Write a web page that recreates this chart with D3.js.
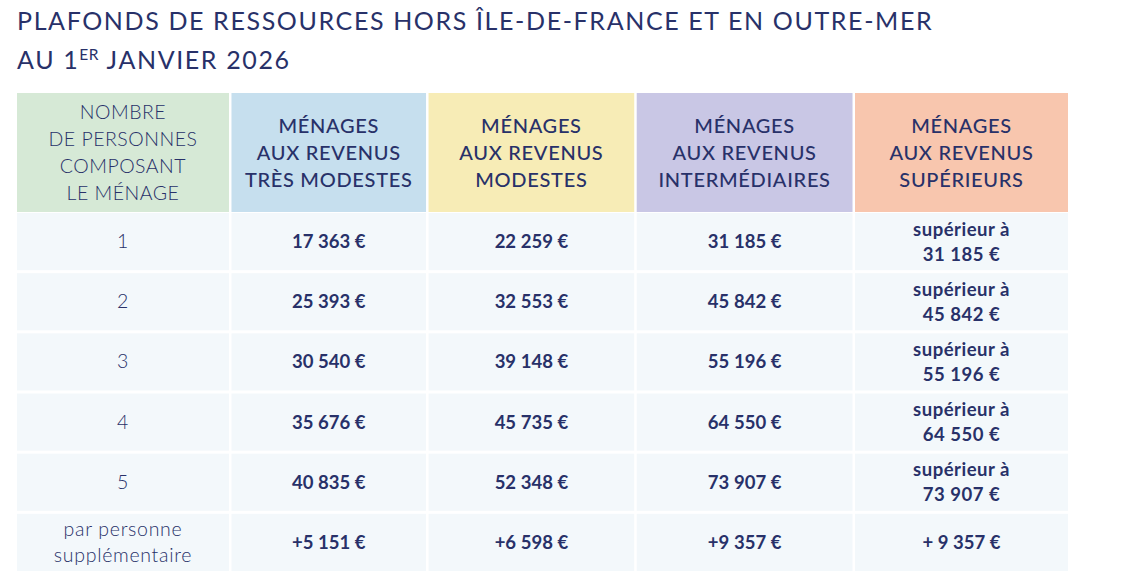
<!DOCTYPE html>
<html>
<head>
<meta charset="utf-8">
<script src="https://cdn.jsdelivr.net/npm/d3@7"></script>
<style>
  body { margin: 0; background: #fff; }
  text { font-family: Lato, "Open Sans", sans-serif; fill: #283169; }
</style>
</head>
<body>
<svg id="chart"></svg>
<script>
// données du tableau
const columnHeaders = [
    ['NOMBRE', 'DE PERSONNES', 'COMPOSANT', 'LE MÉNAGE'],
    ['MÉNAGES', 'AUX REVENUS', 'TRÈS MODESTES'],
    ['MÉNAGES', 'AUX REVENUS', 'MODESTES'],
    ['MÉNAGES', 'AUX REVENUS', 'INTERMÉDIAIRES'],
    ['MÉNAGES', 'AUX REVENUS', 'SUPÉRIEURS']
];
const householdSizes = [['1'], ['2'], ['3'], ['4'], ['5'], ['par personne', 'supplémentaire']];
const tresModestes = [17363, 25393, 30540, 35676, 40835, 5151];
const modestes = [22259, 32553, 39148, 45735, 52348, 6598];
const intermediaires = [31185, 45842, 55196, 64550, 73907, 9357];
const headerColors = ['#d6e9d6', '#c6dfee', '#f7ecb6', '#c9c7e5', '#f8c6ae'];

const width = 1126, height = 583;
const colWeights = [211, 195, 206, 216, 212];
const bodyFill = '#f3f8fb';

const svg = d3.select('#chart').attr('width', width).attr('height', height);

// titre
const title = svg.append('text').attr('x', 17).attr('font-size', 25)
    .attr('letter-spacing', 1.62);
title.append('tspan').attr('x', 17).attr('y', 30)
    .text('PLAFONDS DE RESSOURCES HORS ÎLE-DE-FRANCE ET EN OUTRE-MER');
const t2 = title.append('tspan').attr('x', 17).attr('y', 69);
t2.append('tspan').text('AU 1');
t2.append('tspan').attr('font-size', 15.5).attr('dy', -9).attr('letter-spacing', 0.6).text('ER');
t2.append('tspan').attr('dy', 9).text(' JANVIER 2026');

// échelles
const cum = [0];
colWeights.forEach(w => cum.push(cum[cum.length - 1] + w));
const x = d3.scaleLinear().domain([0, cum[cum.length - 1]]).range([17, 1068]);
const gap = 2.5;
const colX = i => x(cum[i]) + (i ? gap / 2 : 0);
const colW = i => x(cum[i + 1]) - x(cum[i]) - (i && i < colWeights.length - 1 ? gap : gap / 2);

const headerTop = 93, headerBottom = 212;
const y = d3.scaleBand().domain(d3.range(householdSizes.length))
    .range([headerBottom + 1, 571]).paddingInner(0.05);

const fmt = v => d3.format(',')(v).replace(/,/g, '\u202f') + ' €';

// rangée d'en-tête
const head = svg.append('g');
columnHeaders.forEach((lines, i) => {
    head.append('rect')
        .attr('x', colX(i)).attr('y', headerTop)
        .attr('width', colW(i)).attr('height', headerBottom - headerTop)
        .attr('fill', headerColors[i]);
    const cx = colX(i) + colW(i) / 2;
    const lh = i === 0 ? 26.7 : 27;
    const cy = (headerTop + headerBottom) / 2;
    const t = head.append('text').attr('text-anchor', 'middle')
        .attr('font-size', i === 0 ? 19.5 : 20)
        .attr('letter-spacing', i === 0 ? 0.5 : 0.7)
        .attr('font-weight', i === 0 ? 300 : 500);
    lines.forEach((l, k) => {
        t.append('tspan').attr('x', cx)
            .attr('y', cy + (k - (lines.length - 1) / 2) * lh + 7)
            .text(l);
    });
});

// corps du tableau
const rows = householdSizes.map((label, r) => {
    const plus = r === householdSizes.length - 1;
    const pre = plus ? '+' : '';
    return [
        label,
        [pre + fmt(tresModestes[r])],
        [pre + fmt(modestes[r])],
        [pre + fmt(intermediaires[r])],
        plus ? ['+ ' + fmt(intermediaires[r])] : ['supérieur à', fmt(intermediaires[r])]
    ];
});

const body = svg.append('g');
rows.forEach((cells, r) => {
    cells.forEach((lines, i) => {
        body.append('rect')
            .attr('x', colX(i)).attr('y', y(r))
            .attr('width', colW(i)).attr('height', y.bandwidth())
            .attr('fill', bodyFill);
        const cx = colX(i) + colW(i) / 2;
        const cy = y(r) + y.bandwidth() / 2;
        const lh = i === 0 ? 26 : 25;
        const t = body.append('text').attr('text-anchor', 'middle')
            .attr('font-size', i === 0 ? 19.5 : 18.5)
            .attr('letter-spacing', i === 0 ? 0.7 : 0.5)
            .attr('font-weight', i === 0 ? 300 : 700);
        lines.forEach((l, k) => {
            t.append('tspan').attr('x', cx)
                .attr('y', cy + (k - (lines.length - 1) / 2) * lh + 6.5)
                .text(l);
        });
    });
});
</script>
</body>
</html>
